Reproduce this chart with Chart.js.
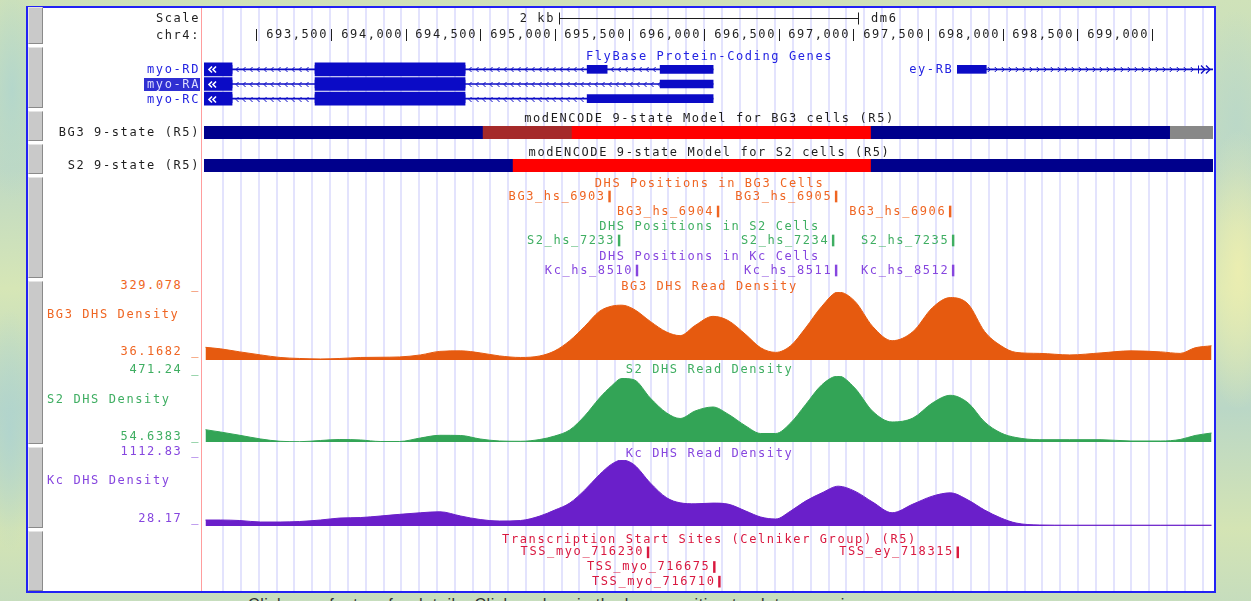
<!DOCTYPE html>
<html lang="en">
<head>
<meta charset="utf-8">
<title>chr4 DHS browser view</title>
<script src="https://cdn.jsdelivr.net/npm/chart.js@4.4.1/dist/chart.umd.min.js"></script>
<style>
  html, body { margin: 0; padding: 0; }
  body {
    position: relative; width: 1251px; height: 601px; overflow: hidden;
    font-family: "DejaVu Sans Mono", monospace;
    background:
      radial-gradient(ellipse 30px 110px at 12px 90px, rgba(178,214,204,0.9), rgba(178,214,204,0)),
      radial-gradient(ellipse 30px 120px at 10px 430px, rgba(176,212,206,0.9), rgba(176,212,206,0)),
      radial-gradient(ellipse 40px 140px at 1238px 270px, rgba(236,238,176,0.95), rgba(236,238,176,0)),
      radial-gradient(ellipse 40px 110px at 1236px 120px, rgba(186,216,200,0.9), rgba(186,216,200,0)),
      linear-gradient(180deg, #cfe2b9 0%, #bfd9c4 28%, #d6e6b6 48%, #bad7c6 68%, #d4e4b4 88%, #c6ddbd 100%);
  }
  #panel {
    position: absolute; left: 26px; top: 6px; width: 1186px; height: 583px;
    border: 2px solid #2222f4; background: #ffffff;
  }
  .btn {
    position: absolute; left: 28px; width: 15px; box-sizing: border-box;
    background: #c9c9c9;
    border-left: 1px solid #e4e4e4; border-top: 1px solid #e4e4e4;
    border-right: 1px solid #8a8a8a; border-bottom: 1px solid #8a8a8a;
  }
  #redline { position: absolute; left: 201px; top: 8px; width: 1px; height: 583px; background: #ff9d9d; }
  .t { position: absolute; z-index: 5; font-size: 12px; line-height: 14px; letter-spacing: 1.6px; white-space: nowrap; }
  .lab { left: 40px; width: 160px; text-align: right; }
  .ttl { left: 204px; width: 1011px; text-align: center; }
  canvas { position: absolute; }
  #hint {
    position: absolute; left: 248px; top: 593px; width: 700px; height: 8px; overflow: hidden;
    font: 16px "Liberation Sans", Arial, sans-serif; letter-spacing: 0.6px; color: #303030;
  }
  #hint span { position: relative; top: 3px; }
</style>
</head>
<body>
<div id="panel"></div>
<div id="redline"></div>
<div id="hint"><span>Click on a feature for details. Click or drag in the base position track to zoom in.</span></div>
<script>
// ---- view window (chr4, dm6) ----
const viewStart = 692650;
const viewEnd = 699410;
const chromName = 'chr4';
const assembly = 'dm6';

// ---- base-position ruler ----
const rulerTicks = [693000, 693500, 694000, 694500, 695000, 695500, 696000, 696500, 697000, 697500, 698000, 698500, 699000];
const scaleBarBp = 2000;

// ---- FlyBase protein-coding transcripts ----
const txNames = ['myo-RD', 'myo-RA', 'myo-RC', 'ey-RB'];
const txRows = [0, 1, 2, 0];
const txStrands = ['-', '-', '-', '+'];
const txExonStarts = [[692560, 693394, 695217, 695706], [692560, 693394, 695706], [692560, 693394, 695217], [697697, 699620]];
const txExonEnds = [[692838, 694399, 695351, 696061], [692838, 694399, 696061], [692838, 694399, 696061], [697891, 699800]];
const txCdsStarts = [692560, 692560, 692560, 699620];
const txCdsEnds = [694399, 694399, 694399, 699800];
const geneRowLabels = ['myo-RD', 'myo-RA', 'myo-RC'];
const selectedTx = 'myo-RA';

// ---- modENCODE 9-state chromatin segments ----
const bg3StateStarts = [692500, 694520, 695116, 697120, 699124];
const bg3StateEnds = [694520, 695116, 697120, 699124, 699600];
const bg3States = [7, 3, 1, 7, 9];
const s2StateStarts = [692500, 694721, 697120];
const s2StateEnds = [694721, 697120, 699600];
const s2States = [7, 1, 7];

// ---- DHS positions ----
const bg3DhsNames = ['BG3_hs_6903', 'BG3_hs_6905', 'BG3_hs_6904', 'BG3_hs_6906'];
const bg3DhsPos = [695361, 696879, 696088, 697643];
const bg3DhsRows = [0, 0, 1, 1];
const s2DhsNames = ['S2_hs_7233', 'S2_hs_7234', 'S2_hs_7235'];
const s2DhsPos = [695425, 696859, 697663];
const s2DhsRows = [0, 0, 0];
const kcDhsNames = ['Kc_hs_8510', 'Kc_hs_8511', 'Kc_hs_8512'];
const kcDhsPos = [695545, 696879, 697663];
const kcDhsRows = [0, 0, 0];

// ---- transcription start sites (Celniker group) ----
const tssNames = ['TSS_myo_716230', 'TSS_ey_718315', 'TSS_myo_716675', 'TSS_myo_716710'];
const tssPos = [695619, 697694, 696063, 696097];
const tssRows = [0, 0, 1, 2];

// ---- DHS read density ----
const densityBins = [692660, 692760, 692890, 693030, 693160, 693290, 693430, 693560, 693700, 693830,
  693960, 694100, 694230, 694370, 694500, 694630, 694770, 694900, 695000, 695100,
  695200, 695300, 695380, 695450, 695530, 695640, 695750, 695840, 695940, 696060,
  696160, 696280, 696380, 696480, 696580, 696680, 696790, 696900, 697010, 697130,
  697260, 697400, 697530, 697650, 697770, 697880, 697990, 698090, 698250, 698450,
  698660, 698860, 699060, 699190, 699290, 699400];
const bg3Density = [90.8, 84.3, 71.1, 58.0, 47.1, 42.7, 40.5, 42.7, 47.1, 48.0,
  49.3, 58.0, 73.3, 75.5, 66.8, 53.7, 47.1, 53.7, 75.5, 119.2,
  180.4, 246.0, 267.9, 272.3, 254.8, 202.3, 156.4, 141.1, 184.8, 224.2,
  206.7, 145.5, 88.6, 69.0, 97.4, 173.9, 267.9, 329.078, 289.7, 180.4,
  119.2, 158.6, 261.3, 305.0, 276.6, 158.6, 97.4, 69.0, 64.6, 58.0,
  66.8, 75.5, 71.1, 64.6, 88.6, 97.4];
const s2Density = [132.3, 117.8, 96.9, 73.6, 59.1, 56.5, 64.1, 70.4, 67.3, 57.8,
  57.8, 79.9, 96.9, 95.7, 73.6, 61.0, 59.1, 70.4, 92.5, 130.4,
  218.8, 332.4, 408.1, 455.5, 447.9, 332.4, 237.7, 203.0, 250.3, 275.6,
  231.4, 155.6, 108.3, 108.3, 174.6, 290.1, 416.3, 471.24, 395.5, 248.4,
  180.9, 206.1, 300.8, 349.4, 300.8, 180.9, 111.4, 83.0, 69.2, 69.2,
  69.2, 60.9, 60.9, 70.4, 95.7, 111.4];
const kcDensity = [126.3, 126.3, 118.2, 93.6, 93.6, 101.8, 126.3, 159.0, 167.2, 191.8,
  219.6, 245.8, 262.1, 191.8, 134.5, 110.0, 118.2, 191.8, 289.9, 404.4,
  617.1, 874.0, 1042.5, 1112.83, 1037.6, 736.5, 491.2, 409.4, 393.0, 404.4,
  388.1, 273.6, 175.4, 142.7, 273.6, 437.2, 572.9, 682.6, 600.8, 420.8,
  245.8, 388.1, 518.9, 572.9, 453.5, 289.9, 159.0, 77.2, 44.5, 41.3,
  41.3, 41.3, 41.3, 41.3, 41.3, 41.3];
const bg3Range = [36.1682, 329.078];
const s2Range = [54.6383, 471.24];
const kcRange = [28.17, 1112.83];

// ---- styling ----
const INK = '#1e1e1e';
const GENE = '#0b0bc6';
const GENE_TEXT = '#2323e2';
const BG3_FILL = '#e65a0f', BG3_TEXT = '#ef6522';
const S2_FILL = '#33a456', S2_TEXT = '#3fae62';
const KC_FILL = '#6a1fca', KC_TEXT = '#8646df';
const TSS_COLOR = '#d9183f';
const GUIDE = '#e3e3fd';
const stateColors = { 1: '#ff0000', 3: '#a52a2a', 7: '#00008c', 9: '#888888' };
const FONT = '12px "DejaVu Sans Mono"';
const LETTER_SP = '1.6px';
const guideFirstBp = 692779, guideStepBp = 119.3;
const featureGlyphBp = 12;
const TRACK_X = 204, TRACK_W = 1009;

// ---- page furniture: side buttons and text ----
[[7, 44], [47, 108], [111, 141], [144, 174], [177, 278], [281, 444], [447, 528], [531, 591]].forEach(([a, b]) => {
  const d = document.createElement('div');
  d.className = 'btn';
  d.style.top = a + 'px';
  d.style.height = (b - a) + 'px';
  document.body.appendChild(d);
});

function addText(text, cls, yCenter, color, extra) {
  const d = document.createElement('div');
  d.className = 't ' + cls;
  d.textContent = text;
  d.style.top = (yCenter - 7) + 'px';
  d.style.color = color;
  if (extra) Object.assign(d.style, extra);
  document.body.appendChild(d);
  return d;
}

// left-hand track labels
addText('Scale', 'lab', 18, INK);
addText(chromName + ':', 'lab', 35, INK);
addText('BG3 9-state (R5)', 'lab', 131.5, INK);
addText('S2 9-state (R5)', 'lab', 164.5, INK);
addText(bg3Range[1] + ' _', 'lab', 285, BG3_TEXT);
addText('BG3 DHS Density', 'lab', 314, BG3_TEXT, { left: '47px', textAlign: 'left' });
addText(bg3Range[0] + ' _', 'lab', 351, BG3_TEXT);
addText(s2Range[1] + ' _', 'lab', 369, S2_TEXT);
addText('S2 DHS Density', 'lab', 399, S2_TEXT, { left: '47px', textAlign: 'left' });
addText(s2Range[0] + ' _', 'lab', 436, S2_TEXT);
addText(kcRange[1] + ' _', 'lab', 451, KC_TEXT);
addText('Kc DHS Density', 'lab', 480, KC_TEXT, { left: '47px', textAlign: 'left' });
addText(kcRange[0] + ' _', 'lab', 517.5, KC_TEXT);

// centred track titles
addText('FlyBase Protein-Coding Genes', 'ttl', 56, GENE_TEXT);
addText('modENCODE 9-state Model for BG3 cells (R5)', 'ttl', 118, INK);
addText('modENCODE 9-state Model for S2 cells (R5)', 'ttl', 152, INK);
addText('DHS Positions in BG3 Cells', 'ttl', 183, BG3_TEXT);
addText('DHS Positions in S2 Cells', 'ttl', 226, S2_TEXT);
addText('DHS Positions in Kc Cells', 'ttl', 256, KC_TEXT);
addText('BG3 DHS Read Density', 'ttl', 286, BG3_TEXT);
addText('S2 DHS Read Density', 'ttl', 369, S2_TEXT);
addText('Kc DHS Read Density', 'ttl', 453, KC_TEXT);
addText('Transcription Start Sites (Celniker Group) (R5)', 'ttl', 539, TSS_COLOR);

// ---- chart helpers ----
function mountChart(top, height, config) {
  const cv = document.createElement('canvas');
  cv.width = TRACK_W;
  cv.height = height;
  cv.style.left = TRACK_X + 'px';
  cv.style.top = top + 'px';
  cv.style.width = TRACK_W + 'px';
  cv.style.height = height + 'px';
  document.body.appendChild(cv);
  return new Chart(cv.getContext('2d'), config);
}
function opts(scales, extra) {
  return Object.assign({
    responsive: false,
    animation: false,
    events: [],
    devicePixelRatio: 1,
    layout: { padding: 0 },
    plugins: { legend: { display: false }, tooltip: { enabled: false } },
    scales
  }, extra || {});
}
const xAxis = () => ({ type: 'linear', min: viewStart, max: viewEnd, display: false, beginAtZero: false });
const rowAxis = () => ({ type: 'category', display: false, offset: true });

function drawLabel(ctx, text, px, py, color, align) {
  ctx.save();
  ctx.font = FONT;
  if ('letterSpacing' in ctx) ctx.letterSpacing = LETTER_SP;
  ctx.fillStyle = color;
  ctx.textAlign = align;
  ctx.textBaseline = 'middle';
  ctx.fillText(text, px, py);
  ctx.restore();
}
function chevron(ctx, px, cy, dir, w, h) {
  ctx.beginPath();
  ctx.moveTo(px - dir * w, cy - h);
  ctx.lineTo(px, cy);
  ctx.lineTo(px - dir * w, cy + h);
  ctx.stroke();
}

// ---- base-position guidelines (behind every track) ----
mountChart(8, 583, {
  type: 'scatter',
  data: { datasets: [] },
  options: opts({ x: xAxis(), y: { display: false, min: 0, max: 1 } }),
  plugins: [{
    id: 'guides',
    afterDraw(chart) {
      const { ctx } = chart;
      const x = chart.scales.x;
      ctx.save();
      ctx.fillStyle = GUIDE;
      for (let b = guideFirstBp; b < viewEnd; b += guideStepBp) {
        const px = Math.round(x.getPixelForValue(b));
        ctx.fillRect(px - 1, 0, 2, chart.height);
      }
      ctx.restore();
    }
  }]
});

// ---- ruler: scale bar and coordinate ticks ----
mountChart(8, 36, {
  type: 'scatter',
  data: { datasets: [] },
  options: opts({ x: xAxis(), y: { display: false, min: 0, max: 1 } }),
  plugins: [{
    id: 'ruler',
    afterDraw(chart) {
      const { ctx } = chart;
      const x = chart.scales.x;
      const tickY = 27, barY = 10.5;
      ctx.save();
      ctx.font = FONT;
      if ('letterSpacing' in ctx) ctx.letterSpacing = LETTER_SP;
      ctx.fillStyle = INK;
      rulerTicks.forEach(t => {
        const px = Math.round(x.getPixelForValue(t));
        ctx.fillRect(px, tickY - 6, 1, 12);
        const label = t.toLocaleString('en-US');
        const w = ctx.measureText(label).width;
        if (px - 4 - w > 2) drawLabel(ctx, label, px - 3, tickY, INK, 'right');
      });
      const mid = (viewStart + viewEnd) / 2;
      const a = Math.round(x.getPixelForValue(mid - scaleBarBp / 2));
      const b = Math.round(x.getPixelForValue(mid + scaleBarBp / 2));
      ctx.fillRect(a, Math.floor(barY), b - a, 1);
      ctx.fillRect(a, barY - 6, 1, 12);
      ctx.fillRect(b, barY - 6, 1, 12);
      drawLabel(ctx, (scaleBarBp / 1000) + ' kb', a - 4, barY, INK, 'right');
      drawLabel(ctx, assembly, b + 13, barY, INK, 'left');
      ctx.restore();
    }
  }]
});

// ---- gene models ----
const thickExons = [], thinExons = [], txSpans = [];
txNames.forEach((name, i) => {
  const row = geneRowLabels[txRows[i]];
  const s = txExonStarts[i], e = txExonEnds[i];
  txSpans.push({ x: [s[0], e[e.length - 1]], y: row });
  s.forEach((a, k) => {
    thinExons.push({ x: [a, e[k]], y: row });
    const cs = Math.max(a, txCdsStarts[i]), ce = Math.min(e[k], txCdsEnds[i]);
    if (ce > cs) thickExons.push({ x: [cs, ce], y: row });
  });
});

const geneDecor = {
  id: 'geneDecor',
  afterDatasetsDraw(chart) {
    const { ctx, chartArea } = chart;
    const x = chart.scales.x, y = chart.scales.y;
    ctx.save();
    ctx.beginPath();
    ctx.rect(chartArea.left, chartArea.top, chartArea.width, chartArea.height);
    ctx.clip();
    txNames.forEach((name, i) => {
      const cy = Math.round(y.getPixelForValue(txRows[i])) + 0.5;
      const s = txExonStarts[i], e = txExonEnds[i];
      const dir = txStrands[i] === '+' ? 1 : -1;
      ctx.strokeStyle = GENE;
      ctx.lineWidth = 1;
      for (let k = 0; k < s.length - 1; k++) {
        const a = Math.max(x.getPixelForValue(e[k]), chartArea.left);
        const b = Math.min(x.getPixelForValue(s[k + 1]), chartArea.right - 16);
        for (let p = a + 4; p < b - 2; p += 7) chevron(ctx, p, cy, dir, 2.5, 2.5);
      }
      if (s[0] < viewStart) {
        ctx.strokeStyle = '#ffffff';
        ctx.lineWidth = 1.6;
        chevron(ctx, chartArea.left + 5, cy, dir, 3, 3);
        chevron(ctx, chartArea.left + 9, cy, dir, 3, 3);
      } else {
        drawLabel(ctx, name, x.getPixelForValue(s[0]) - 4, cy, GENE_TEXT, 'right');
      }
      if (e[e.length - 1] > viewEnd) {
        ctx.strokeStyle = GENE;
        ctx.lineWidth = 1.3;
        ctx.fillStyle = GENE;
        ctx.fillRect(chartArea.right - 15, cy - 4, 1, 8);
        chevron(ctx, chartArea.right - 8, cy, 1, 4, 4);
        chevron(ctx, chartArea.right - 3, cy, 1, 4, 4);
      }
    });
    ctx.restore();
  }
};

mountChart(62, 44, {
  type: 'bar',
  data: {
    labels: geneRowLabels,
    datasets: [
      { data: thickExons, backgroundColor: GENE, barThickness: 13, grouped: false },
      { data: thinExons, backgroundColor: GENE, barThickness: 8, grouped: false },
      { data: txSpans, backgroundColor: GENE, barThickness: 1, grouped: false }
    ]
  },
  options: opts({ x: xAxis(), y: rowAxis() }, { indexAxis: 'y' }),
  plugins: [geneDecor]
});

// transcript names that start left of the window go in the label column
txNames.forEach((name, i) => {
  if (txExonStarts[i][0] >= viewStart) return;
  const yc = 62 + (txRows[i] + 0.5) * 44 / 3;
  if (name === selectedTx) {
    addText(name, 'lab', yc, '#dcdcff', {
      left: '144px', width: '56px', height: '13px', lineHeight: '13px',
      top: (yc - 6.5) + 'px', background: '#2f2fd2'
    });
  } else {
    addText(name, 'lab', yc, GENE_TEXT);
  }
});

// ---- chromatin state bars ----
function stateTrack(top, starts, ends, states, rowName) {
  mountChart(top, 13, {
    type: 'bar',
    data: {
      labels: [rowName],
      datasets: [{
        data: starts.map((s, i) => ({ x: [s, ends[i]], y: rowName })),
        backgroundColor: states.map(s => stateColors[s]),
        barThickness: 13,
        grouped: false
      }]
    },
    options: opts({ x: xAxis(), y: rowAxis() }, { indexAxis: 'y' })
  });
}
stateTrack(126, bg3StateStarts, bg3StateEnds, bg3States, 'BG3');
stateTrack(159, s2StateStarts, s2StateEnds, s2States, 'S2');

// ---- point features with labels on their left ----
function featureTrack(top, rowCount, rowHeight, names, pos, rows, color) {
  const rowNames = Array.from({ length: rowCount }, (_, i) => 'row ' + (i + 1));
  mountChart(top, Math.round(rowCount * rowHeight), {
    type: 'bar',
    data: {
      labels: rowNames,
      datasets: [{
        data: pos.map((p, i) => ({ x: [p, p + featureGlyphBp], y: rowNames[rows[i]] })),
        backgroundColor: color,
        barThickness: 11,
        grouped: false
      }]
    },
    options: opts({ x: xAxis(), y: rowAxis() }, { indexAxis: 'y' }),
    plugins: [{
      id: 'featureNames',
      afterDatasetsDraw(chart) {
        const x = chart.scales.x, y = chart.scales.y;
        names.forEach((n, i) => {
          drawLabel(chart.ctx, n, x.getPixelForValue(pos[i]) - 3, y.getPixelForValue(rows[i]), color, 'right');
        });
      }
    }]
  });
}
featureTrack(189, 2, 15, bg3DhsNames, bg3DhsPos, bg3DhsRows, BG3_TEXT);
featureTrack(233, 1, 15, s2DhsNames, s2DhsPos, s2DhsRows, S2_TEXT);
featureTrack(263, 1, 15, kcDhsNames, kcDhsPos, kcDhsRows, KC_TEXT);
featureTrack(545, 3, 44 / 3, tssNames, tssPos, tssRows, TSS_COLOR);

// ---- read density wiggles ----
function densityTrack(top, height, values, range, color) {
  mountChart(top, height, {
    type: 'line',
    data: {
      datasets: [{
        data: densityBins.map((b, i) => ({ x: b, y: values[i] })),
        fill: 'start',
        backgroundColor: color,
        borderColor: color,
        borderWidth: 1,
        pointRadius: 0,
        cubicInterpolationMode: 'monotone'
      }]
    },
    options: opts({ x: xAxis(), y: { type: 'linear', min: range[0], max: range[1], display: false } })
  });
}
densityTrack(292, 68, bg3Density, bg3Range, BG3_FILL);
densityTrack(376, 66, s2Density, s2Range, S2_FILL);
densityTrack(460, 66, kcDensity, kcRange, KC_FILL);
</script>
</body>
</html>
